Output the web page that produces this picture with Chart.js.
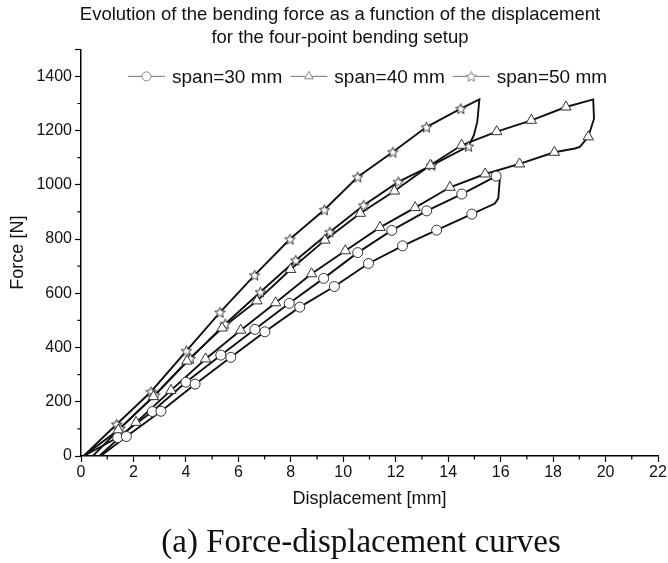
<!DOCTYPE html>
<html>
<head>
<meta charset="utf-8">
<script src="https://cdn.jsdelivr.net/npm/chart.js@4.4.1/dist/chart.umd.min.js"></script>
<style>
  html, body { margin: 0; padding: 0; background: #fff; }
  #wrap { width: 668px; height: 563px; }
</style>
</head>
<body>
<div id="wrap"><canvas id="chart"></canvas></div>
<script>
const seriesNames = ["span=30 mm", "span=40 mm", "span=50 mm"];

// each loop: loading curve up to the peak, the drop, then the lower curve back to zero
const span30X = [0.1, 1.4, 2.72, 4.0, 5.33, 6.63, 7.94, 9.25, 10.55, 11.85, 13.18, 14.52, 15.83, 15.95,
  15.97, 15.91, 15.78, 14.9, 13.56, 12.26, 10.96, 9.66, 8.34, 7.01, 5.71, 4.35, 3.05, 1.73, 0.75];
const span30Y = [0, 68, 164, 272, 372, 467, 563, 655, 750, 832, 904, 966, 1032, 1041,
  1023, 950, 931, 892, 833, 775, 710, 625, 549, 458, 364, 265, 165, 72, 0];

const span40X = [0.1, 1.42, 2.76, 4.04, 5.38, 6.71, 7.99, 9.3, 10.65, 11.95, 13.32, 14.51, 15.85, 17.17, 18.49, 19.53,
  19.56, 19.34, 19.02, 18.83, 18.05, 16.72, 15.41, 14.07, 12.74, 11.4, 10.08, 8.79, 7.42, 6.09, 4.75, 3.43, 2.1, 0.7];
const span40Y = [0, 96, 219, 350, 472, 572, 688, 796, 895, 977, 1072, 1146, 1196, 1238, 1287, 1315,
  1244, 1177, 1140, 1134, 1120, 1077, 1040, 991, 916, 843, 757, 672, 565, 464, 358, 242, 124, 0];

const span50X = [0.1, 1.36, 2.67, 4.02, 5.3, 6.62, 7.97, 9.28, 10.55, 11.89, 13.17, 14.48, 15.19,
  15.11, 14.98, 14.77, 13.37, 12.1, 10.78, 9.49, 8.19, 6.84, 5.5, 4.17, 2.82, 1.49, 0.45];
const span50Y = [0, 117, 237, 388, 530, 667, 800, 908, 1029, 1121, 1213, 1281, 1315,
  1232, 1183, 1142, 1072, 1011, 925, 826, 722, 605, 487, 360, 225, 102, 0];

// symbol positions along each loop
const span30MarkX = [1.4, 2.72, 4.0, 5.33, 6.63, 7.94, 9.25, 10.55, 11.85, 13.18, 14.52, 15.83,
  14.9, 13.56, 12.26, 10.96, 9.66, 8.34, 7.01, 5.71, 4.35, 3.05, 1.73];
const span30MarkY = [68, 164, 272, 372, 467, 563, 655, 750, 832, 904, 966, 1032,
  892, 833, 775, 710, 625, 549, 458, 364, 265, 165, 72];
const span40MarkX = [1.42, 2.76, 4.04, 5.38, 6.71, 7.99, 9.3, 10.65, 11.95, 13.32, 14.51, 15.85, 17.17, 18.49,
  19.34, 18.05, 16.72, 15.41, 14.07, 12.74, 11.4, 10.08, 8.79, 7.42, 6.09, 4.75, 3.43, 2.1];
const span40MarkY = [96, 219, 350, 472, 572, 688, 796, 895, 977, 1072, 1146, 1196, 1238, 1287,
  1177, 1120, 1077, 1040, 991, 916, 843, 757, 672, 565, 464, 358, 242, 124];
const span50MarkX = [1.36, 2.67, 4.02, 5.3, 6.62, 7.97, 9.28, 10.55, 11.89, 13.17, 14.48,
  14.77, 13.37, 12.1, 10.78, 9.49, 8.19, 6.84, 5.5, 4.17, 2.82, 1.49];
const span50MarkY = [117, 237, 388, 530, 667, 800, 908, 1029, 1121, 1213, 1281,
  1142, 1072, 1011, 925, 826, 722, 605, 487, 360, 225, 102];

const xTicks = [0, 22, 2];      // min, max, step
const yTicks = [0, 1500, 200];
const caption = "(a) Force-displacement curves";

const FONT = "'Liberation Sans', Arial, sans-serif";

function toPoints(xs, ys) {
  return xs.map((x, i) => ({ x: x, y: ys[i] }));
}

function makeStar(size, color) {
  const c = document.createElement("canvas");
  c.width = size;
  c.height = size;
  const g = c.getContext("2d");
  const R = size / 2 - 1, r = R * 0.45;
  g.beginPath();
  for (let i = 0; i < 10; i++) {
    const a = -Math.PI / 2 + i * Math.PI / 5;
    const rad = i % 2 ? r : R;
    g.lineTo(size / 2 + rad * Math.cos(a), size / 2 + 0.5 + rad * Math.sin(a));
  }
  g.closePath();
  g.fillStyle = "#fff";
  g.fill();
  g.strokeStyle = color;
  g.lineWidth = 1;
  g.stroke();
  return c;
}

const markStyles = ["circle", "triangle", makeStar(13, "#333")];
const legendStyles = ["circle", "triangle", makeStar(13, "#888")];

const paths = [toPoints(span30X, span30Y), toPoints(span40X, span40Y), toPoints(span50X, span50Y)];
const marks = [toPoints(span30MarkX, span30MarkY), toPoints(span40MarkX, span40MarkY), toPoints(span50MarkX, span50MarkY)];

const datasets = [];
seriesNames.forEach((name, i) => {
  datasets.push({
    label: name,
    data: paths[i],
    showLine: true,
    borderColor: "#111",
    borderWidth: 1.9,
    pointRadius: 0,
    order: 2,
  });
  datasets.push({
    label: name + " symbols",
    data: marks[i],
    showLine: false,
    pointStyle: markStyles[i],
    pointRadius: i === 1 ? 6 : 5,
    pointBackgroundColor: "#fff",
    pointBorderColor: "#333",
    pointBorderWidth: 1,
    order: 1,
  });
});

// Origin style minor ticks
const minorTicks = {
  id: "minorTicks",
  afterDraw(chart) {
    const { ctx } = chart;
    const x = chart.scales.x, y = chart.scales.y;
    ctx.save();
    ctx.strokeStyle = "#000";
    ctx.lineWidth = 1.2;
    ctx.beginPath();
    for (let v = xTicks[0] + xTicks[2] / 2; v < xTicks[1]; v += xTicks[2]) {
      const px = x.getPixelForValue(v);
      ctx.moveTo(px, x.top);
      ctx.lineTo(px, x.top + 3.5);
    }
    for (let v = yTicks[0] + yTicks[2] / 2; v < yTicks[1]; v += yTicks[2]) {
      const py = y.getPixelForValue(v);
      ctx.moveTo(y.right, py);
      ctx.lineTo(y.right - 3.5, py);
    }
    ctx.stroke();
    ctx.restore();
  },
};

// legend inside the plot: short line with the symbol in the middle
const lineLegend = {
  id: "lineLegend",
  afterDraw(chart) {
    const { ctx, chartArea } = chart;
    const y = chart.scales.y.getPixelForValue(1400);
    let x = chartArea.left + 47;
    ctx.save();
    ctx.font = "19px " + FONT;
    ctx.textBaseline = "middle";
    seriesNames.forEach((name, i) => {
      ctx.strokeStyle = "#777";
      ctx.lineWidth = 1;
      ctx.beginPath();
      ctx.moveTo(x, y);
      ctx.lineTo(x + 37, y);
      ctx.stroke();
      ctx.fillStyle = "#fff";
      ctx.strokeStyle = "#888";
      Chart.helpers.drawPoint(ctx, { pointStyle: legendStyles[i], radius: i === 1 ? 5 : 4.5, borderWidth: 1, rotation: 0 }, x + 18.5, y);
      ctx.fillStyle = "#111";
      ctx.fillText(name, x + 44, y + 1);
      x += 44 + ctx.measureText(name).width + 8;
    });
    ctx.restore();
  },
};

// figure caption under the axis title
const figCaption = {
  id: "figCaption",
  afterDraw(chart) {
    const { ctx } = chart;
    ctx.save();
    ctx.font = "33px 'Liberation Serif', 'Times New Roman', serif";
    ctx.fillStyle = "#111";
    ctx.textAlign = "center";
    ctx.textBaseline = "middle";
    ctx.fillText(caption, 361, chart.height - 20);
    ctx.restore();
  },
};

new Chart(document.getElementById("chart"), {
  type: "scatter",
  data: { datasets: datasets },
  plugins: [minorTicks, lineLegend, figCaption],
  options: {
    responsive: true,
    maintainAspectRatio: false,
    animation: false,
    layout: { padding: { left: 22, right: 10, top: 0, bottom: 45 } },
    plugins: {
      legend: { display: false },
      tooltip: { enabled: false },
      title: {
        display: true,
        text: ["Evolution of the bending force as a function of the displacement", "for the four-point bending setup"],
        color: "#111",
        font: { family: FONT, size: 18.5, weight: "normal", lineHeight: 1.25 },
        padding: { top: 3, bottom: 0 },
      },
    },
    scales: {
      x: {
        type: "linear",
        min: xTicks[0],
        max: xTicks[1],
        ticks: { stepSize: xTicks[2], color: "#111", font: { family: FONT, size: 16 }, padding: 1, maxRotation: 0 },
        grid: { drawOnChartArea: false, drawTicks: true, tickLength: 6, color: "#000", tickWidth: 1.2 },
        border: { color: "#000", width: 1.5 },
        title: { display: true, text: "Displacement [mm]", color: "#111", font: { family: FONT, size: 18 }, padding: { top: 0, bottom: 8 } },
        afterFit(scale) {
          scale.height = 62;
          scale.paddingLeft = 0;
          scale.paddingRight = 0;
        },
      },
      y: {
        min: yTicks[0],
        max: yTicks[1],
        ticks: {
          stepSize: yTicks[2],
          color: "#111",
          font: { family: FONT, size: 16 },
          padding: 3,
          callback: (v) => (v === yTicks[1] ? "" : v),
        },
        grid: { drawOnChartArea: false, drawTicks: true, tickLength: 6, color: "#000", tickWidth: 1.2 },
        border: { color: "#000", width: 1.5 },
        // negative padding pulls the title back out past the layout padding
        title: { display: true, text: "Force [N]", color: "#111", font: { family: FONT, size: 18 }, padding: { top: -15, bottom: 0 } },
        afterFit(scale) {
          scale.width = 59;
        },
      },
    },
  },
});
</script>
</body>
</html>
